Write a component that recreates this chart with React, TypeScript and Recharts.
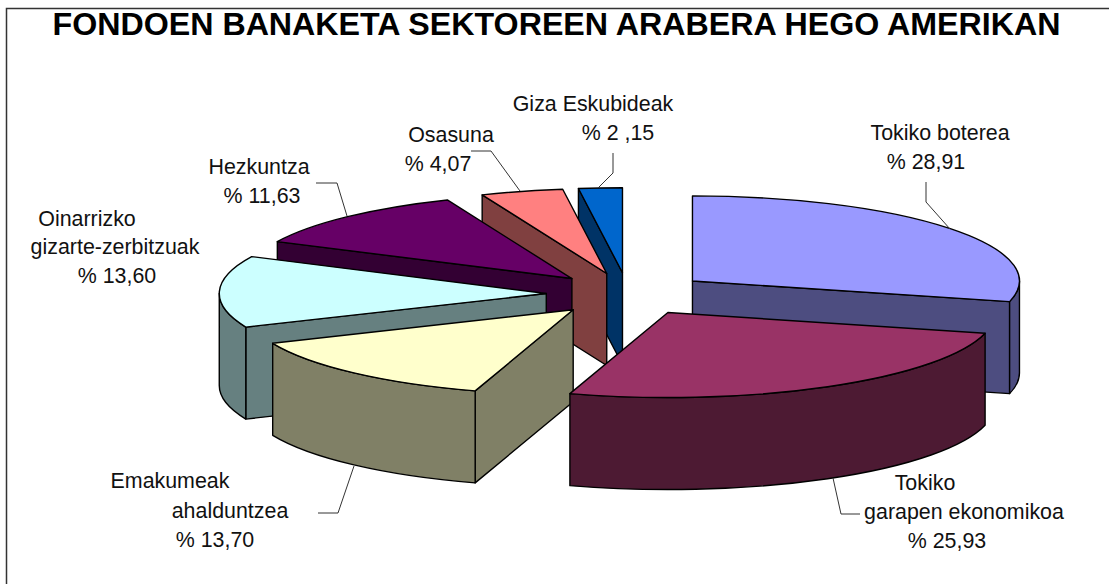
import * as React from 'react'
import { PieChart, Pie } from 'recharts'

// painted back to front, so the list runs counter-clockwise from 12 o'clock
const categories = [
  ['Giza Eskubideak'],
  ['Osasuna'],
  ['Hezkuntza'],
  ['Oinarrizko', 'gizarte-zerbitzuak'],
  ['Emakumeak', 'ahalduntzea'],
  ['Tokiko', 'garapen ekonomikoa'],
  ['Tokiko boterea'],
]
const values = [2.15, 4.07, 11.63, 13.6, 13.7, 25.93, 28.91]
const valueLabels = ['% 2 ,15', '% 4,07', '% 11,63', '% 13,60', '% 13,70', '% 25,93', '% 28,91']
const colors = ['#0066CC', '#FF8080', '#660066', '#CCFFFF', '#FFFFCC', '#993366', '#9999FF']

const chartData = values.map((value, i) => ({ name: categories[i].join(' '), value, fill: colors[i] }))

const WIDTH = 1109
const HEIGHT = 584
const CX = 628
const CY = 294
const RADIUS = 327
const SQUASH = 0.26
const EXPLODE = 0.25
const DEPTH = 92
const FONT = '"Liberation Sans", Arial, sans-serif'

// [center x, baseline y] for every text line, the last one is the value
const labelPlaces = [
  { lines: [[593, 111], [618, 140]], leader: '613,153 613,173 598,188' },
  { lines: [[451, 142], [438, 171]], leader: '471,151 491,151 520,191' },
  { lines: [[259, 174], [262, 203]], leader: '316,183 337,183 347,216' },
  { lines: [[87, 226], [115, 254], [117, 283]], leader: '' },
  { lines: [[170, 488], [230, 518], [215, 547]], leader: '318,513 338,513 354,466' },
  { lines: [[925, 490], [964, 519], [947, 548]], leader: '860,514 841,514 833,478' },
  { lines: [[940, 140], [926, 169]], leader: '926,182 926,202 950,229' },
]

const darken = (hex: string) => {
  const n = parseInt(hex.slice(1), 16)
  const half = (v: number) => Math.round(v / 2).toString(16).padStart(2, '0')
  return `#${half((n >> 16) & 255)}${half((n >> 8) & 255)}${half(n & 255)}`
}

const rad = (deg: number) => (deg * Math.PI) / 180

function Slice3D(props: any) {
  const { cx, cy, outerRadius, startAngle, endAngle, fill } = props
  const a0 = Math.min(startAngle, endAngle)
  const a1 = Math.max(startAngle, endAngle)
  const rx = outerRadius
  const ry = outerRadius * SQUASH
  const mid = rad((a0 + a1) / 2)
  const ax = cx + rx * EXPLODE * Math.cos(mid)
  const ay = cy - ry * EXPLODE * Math.sin(mid)
  const pt = (deg: number, dy = 0) => `${ax + rx * Math.cos(rad(deg))},${ay - ry * Math.sin(rad(deg)) + dy}`
  const side = darken(fill)
  const radial = (deg: number) =>
    `M${ax},${ay} L${pt(deg)} L${pt(deg, DEPTH)} L${ax},${ay + DEPTH} Z`

  const lowFrom = Math.max(a0, 180)
  const lowTo = Math.min(a1, 360)
  const face = { fill: side, stroke: '#000', strokeWidth: 1.4, strokeLinejoin: 'round' as const }

  return (
    <g>
      {Math.cos(rad(a0)) > 0.001 && <path d={radial(a0)} {...face} />}
      {Math.cos(rad(a1)) < -0.001 && <path d={radial(a1)} {...face} />}
      {lowTo > lowFrom && (
        <path
          d={`M${pt(lowFrom)} A${rx},${ry} 0 0 0 ${pt(lowTo)} L${pt(lowTo, DEPTH)} A${rx},${ry} 0 0 1 ${pt(lowFrom, DEPTH)} Z`}
          {...face}
        />
      )}
      <path
        d={`M${ax},${ay} L${pt(a0)} A${rx},${ry} 0 0 0 ${pt(a1)} Z`}
        fill={fill}
        stroke="#000"
        strokeWidth={1.4}
        strokeLinejoin="round"
      />
    </g>
  )
}

const LAST = values.length - 1

const renderLabel = (props: any) => {
  const i = props.index
  const place = labelPlaces[i]
  const texts = [...categories[i], valueLabels[i]]
  return (
    <g key={i}>
      {place.leader && <polyline points={place.leader} fill="none" stroke="#333" strokeWidth={1} />}
      {texts.map((t, k) => (
        <text
          key={t}
          x={place.lines[k][0]}
          y={place.lines[k][1]}
          textAnchor="middle"
          fontFamily={FONT}
          fontSize={21.4}
          fill="#111"
        >
          {t}
        </text>
      ))}
    </g>
  )
}

export default function App() {
  const pieProps = {
    data: chartData,
    dataKey: 'value',
    nameKey: 'name',
    cx: CX,
    cy: CY,
    innerRadius: 0,
    outerRadius: RADIUS,
    startAngle: 90,
    endAngle: 450,
    stroke: '#000',
    isAnimationActive: false,
  }
  return (
    <div style={{ position: 'absolute', left: 0, top: 0, width: WIDTH, height: HEIGHT, background: '#fff' }}>
      <PieChart width={WIDTH} height={HEIGHT} margin={{ top: 0, right: 0, bottom: 0, left: 0 }}>
        <path d={`M6.5,${HEIGHT} V8.5 H${WIDTH}`} fill="none" stroke="#333" strokeWidth={1.5} />
        <text x={556.5} y={35} textAnchor="middle" fontFamily={FONT} fontWeight="bold" fontSize={32.2} fill="#000">
          FONDOEN BANAKETA SEKTOREEN ARABERA HEGO AMERIKAN
        </text>
        {/* the right hand slice sits behind its neighbour, so it gets its own earlier pass */}
        <Pie
          {...pieProps}
          labelLine={false}
          shape={(p: any) => (p.index === LAST ? <Slice3D {...p} /> : <g />)}
        />
        <Pie
          {...pieProps}
          labelLine={false}
          label={renderLabel}
          shape={(p: any) => (p.index === LAST ? <g /> : <Slice3D {...p} />)}
        />
      </PieChart>
    </div>
  )
}
